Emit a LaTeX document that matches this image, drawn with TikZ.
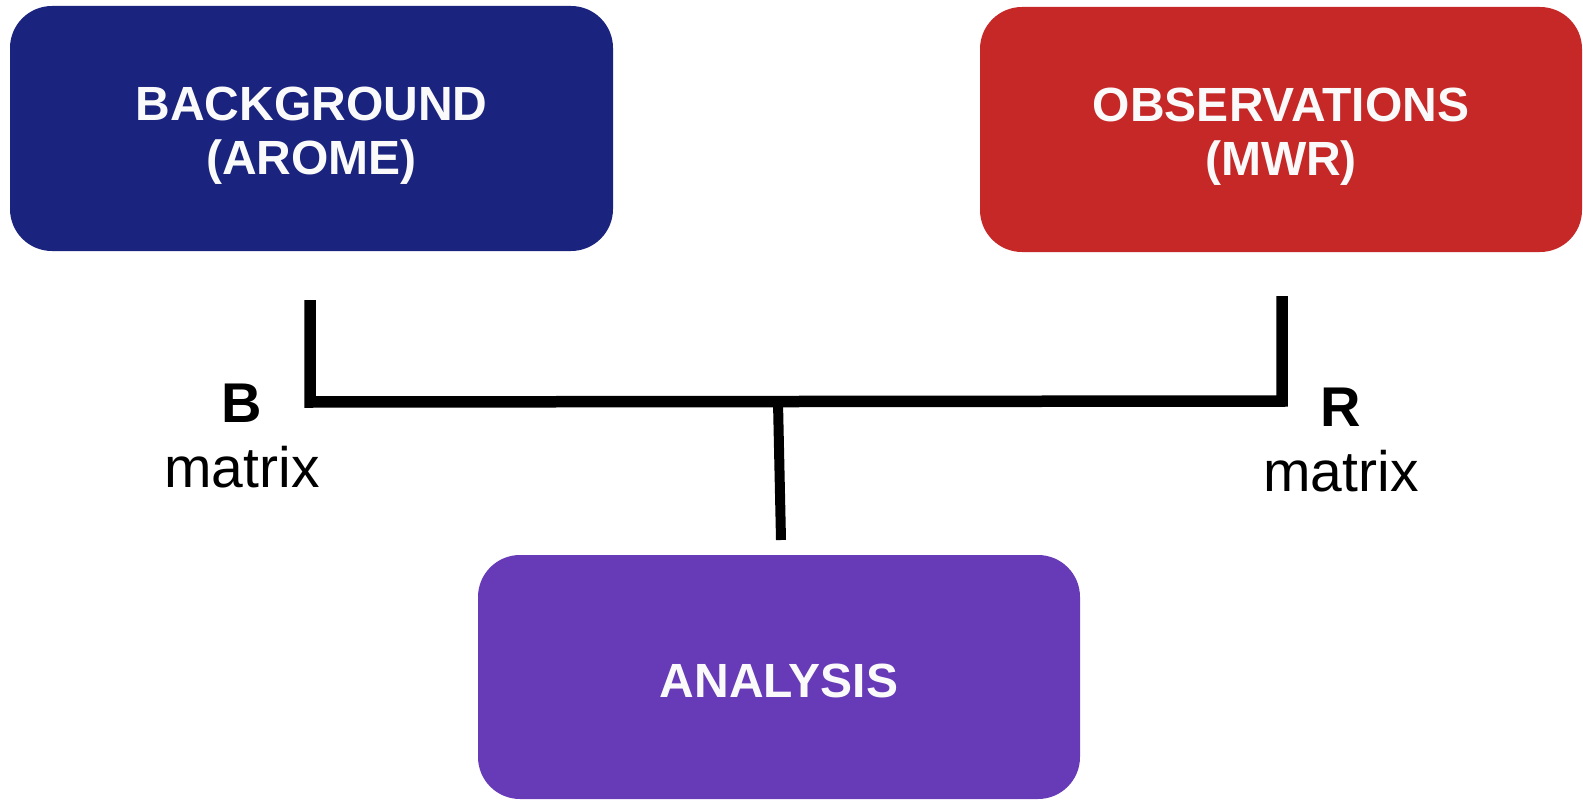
\documentclass[tikz,border=0pt]{standalone}
\usepackage{fontspec}
\setmainfont{Liberation Sans}
\definecolor{bgblue}{HTML}{1A237E}
\definecolor{obsred}{HTML}{C62828}
\definecolor{anapurple}{HTML}{673AB7}
\definecolor{boxtext}{HTML}{FAFAFA}
\begin{document}
\begin{tikzpicture}[x=1pt,y=-1pt,
  box/.style={rectangle, rounded corners=42pt, inner sep=0pt},
  boxlabel/.style={text=boxtext, inner sep=0pt,
    font=\fontsize{48}{54.5}\selectfont\bfseries, align=center},
  link/.style={line width=11.5pt, black, line join=miter},
  labbold/.style={inner sep=0pt, font=\fontsize{56}{62}\selectfont\bfseries},
  labreg/.style={inner sep=0pt, font=\fontsize{57}{63}\selectfont}]
\useasboundingbox (0,0) rectangle (1583,800);
\node[box, fill=bgblue, minimum width=603pt, minimum height=245pt] (bg) at (311.5,128.5) {};
\node[box, fill=obsred, minimum width=602pt, minimum height=245pt] (obs) at (1281,129.5) {};
\node[box, fill=anapurple, minimum width=602pt, minimum height=244pt] (ana) at (779,677) {};
\node[boxlabel] (bgtext) at (311.5,135.5) {BACKGROUND\\(AROME)};
\node[boxlabel] (obstext) at (1281,136.5) {OBSERVATIONS\\(MWR)};
\node[boxlabel] (anatext) at (779,680.5) {ANALYSIS};
\coordinate (bgend) at (310,300);
\coordinate (leftc) at (310,402);
\coordinate (rightc) at (1282,401);
\coordinate (obsend) at (1282,296);
\coordinate (stemtop) at (778,402);
\coordinate (stemend) at (781,540);
\draw[link] (bgend) -- (leftc) -- (rightc) -- (obsend);
\draw[line width=10pt, black] (stemtop) -- (stemend);
\node[labbold] (bl) at (242,403) {B};
\node[labreg] (bm) at (242,467) {matrix};
\node[labbold] (rl) at (1341,407) {R};
\node[labreg] (rm) at (1341,471) {matrix};
\end{tikzpicture}
\end{document}
